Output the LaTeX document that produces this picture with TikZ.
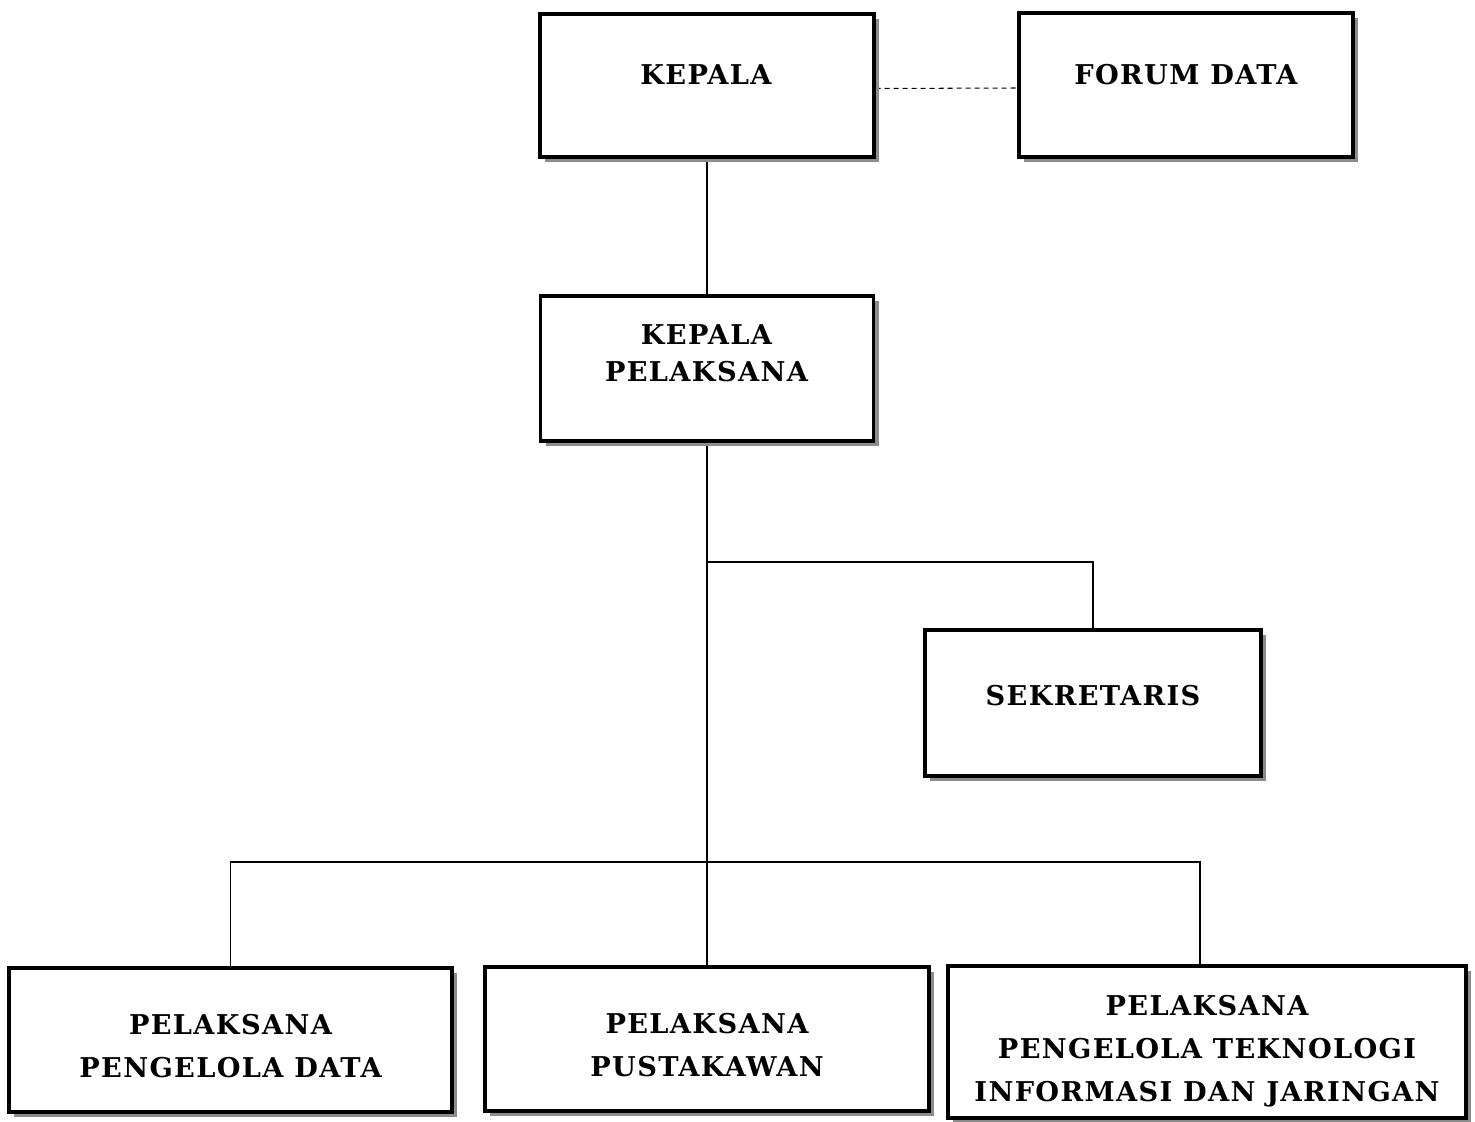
\documentclass[tikz,border=0pt]{standalone}
\usepackage{fontspec}
\setmainfont{DejaVu Serif}[LetterSpace=5]
\usepackage{tikz}
\usetikzlibrary{shadows,backgrounds,positioning}
\tikzset{%
    orgbox/.style 2 args={%
        draw, line width=1.9pt, fill=white,
        minimum width=#1cm, minimum height=#2cm,
        drop shadow={shadow xshift=0.1cm, shadow yshift=-0.1cm, fill=black!45, opacity=1}
    },
    orgtext/.style={%
        align=center, inner sep=0pt,
        font=\fontsize{15.5}{24.4}\selectfont\bfseries
    },
    link/.style={line width=0.8pt}
}

\begin{document}
\begin{tikzpicture}
\useasboundingbox (0,0) rectangle (29.5,-22.42);
% boxes
\node[orgbox={6.68}{2.86}] (kepala) at (14.14,-1.71) {};
\node[orgbox={6.68}{2.88}] (forum) at (23.72,-1.70) {};
\node[orgbox={6.66}{2.90}] (keppel) at (14.14,-7.37) {};
\node[orgbox={6.72}{2.92}] (sekr) at (21.86,-14.06) {};
\node[orgbox={8.86}{2.88}] (pdata) at (4.61,-20.80) {};
\node[orgbox={8.88}{2.88}] (ppustaka) at (14.14,-20.78) {};
\node[orgbox={10.36}{3.04}] (ptik) at (24.14,-20.84) {};
% texts
\node[orgtext] (kepala-t) at (14.12,-1.50) {KEPALA};
\node[orgtext] (forum-t) at (23.72,-1.50) {FORUM DATA};
\node[orgtext] (keppel-t) at (14.13,-7.07) {KEPALA\\[-0.12cm]PELAKSANA};
\node[orgtext] (sekr-t) at (21.86,-13.92) {SEKRETARIS};
\node[orgtext] (pdata-t) at (4.61,-20.93) {PELAKSANA\\PENGELOLA DATA};
\node[orgtext] (ppustaka-t) at (14.14,-20.91) {PELAKSANA\\PUSTAKAWAN};
\node[orgtext] (ptik-t) at (24.14,-21.03) {PELAKSANA\\PENGELOLA TEKNOLOGI\\INFORMASI DAN JARINGAN};
% junctions
\coordinate (j1) at (14.14,-11.24);
\coordinate (j2) at (14.14,-17.24);
\begin{scope}[on background layer]
\draw[link] (kepala) -- (keppel);
\draw[link] (keppel.south) -- (j2);
\draw[link] (j1) -| (sekr.north);
\draw[link] (pdata.north) |- (j2) -| ([xshift=-0.14cm]ptik.north);
\draw[link] (j2) -- (ppustaka.north);
\draw[line width=0.6pt, dash pattern=on 0.1cm off 0.08cm] ([yshift=-0.06cm]kepala.east) -- ([yshift=-0.06cm]forum.west);
\end{scope}
\end{tikzpicture}
\end{document}
